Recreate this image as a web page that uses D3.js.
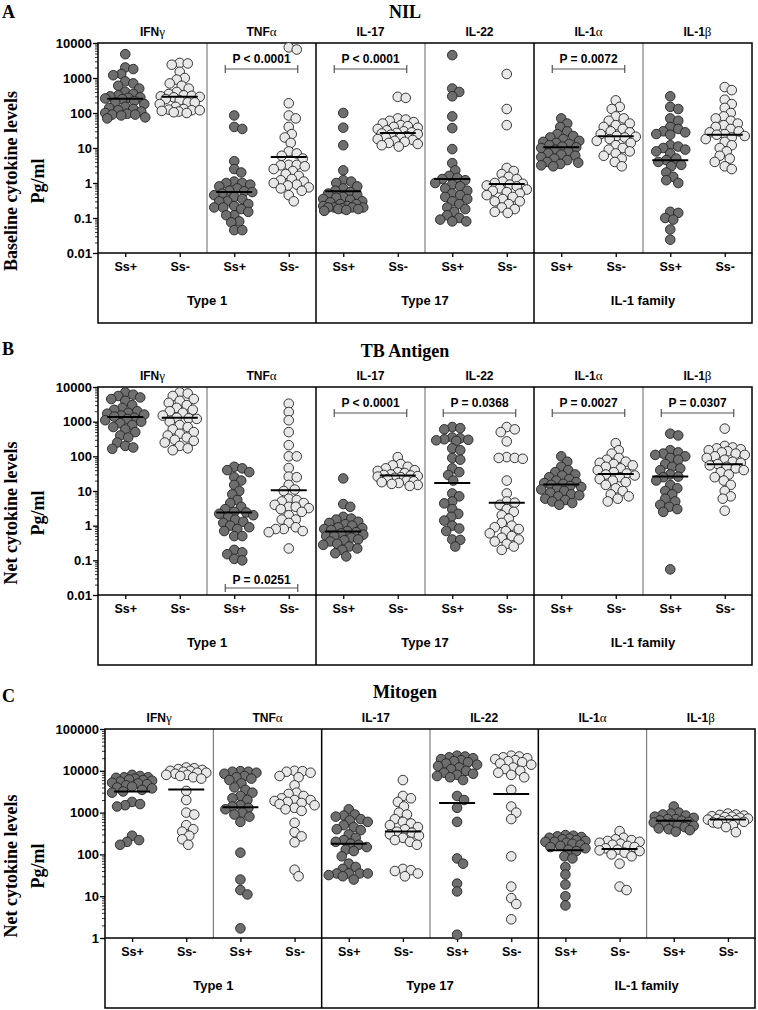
<!DOCTYPE html>
<html>
<head>
<meta charset="utf-8">
<script src="https://cdn.jsdelivr.net/npm/d3@7"></script>
<style>
  body { margin: 0; background: #fff; }
  svg { display: block; }
</style>
</head>
<body>
<script>
// ---- data ----
var cytokines = ["IFNγ", "TNFα", "IL-17", "IL-22", "IL-1α", "IL-1β"];
var groups = ["Ss+", "Ss-"];
var families = ["Type 1", "Type 17", "IL-1 family"];
var panelLetters = ["A", "B", "C"];
var panelTitles = ["NIL", "TB Antigen", "Mitogen"];
var yTitles = ["Baseline cytokine levels", "Net cytokine levels", "Net cytokine levels"];
var yTicksAB = [0.01, 0.1, 1, 10, 100, 1000, 10000];
var yTicksC = [1, 10, 100, 1000, 10000, 100000];

// A: NIL (pg/ml), one list per cytokine
var nilSsPos = [
  [4800, 2000, 1800, 1300, 1200, 800, 700, 600, 500, 400, 350, 320, 300, 280, 270, 260, 250, 220, 200, 180, 150, 140, 130, 120, 110, 100, 95, 90, 90, 85, 75, 70],
  [85, 40, 35, 4.2, 2.5, 2.0, 1.1, 1.0, 1.0, 0.9, 0.8, 0.7, 0.6, 0.58, 0.55, 0.5, 0.45, 0.4, 0.35, 0.3, 0.3, 0.25, 0.22, 0.2, 0.2, 0.18, 0.15, 0.12, 0.12, 0.08, 0.075, 0.045, 0.045],
  [100, 38, 12, 2.3, 1.2, 1.1, 1.0, 0.8, 0.7, 0.6, 0.55, 0.5, 0.45, 0.4, 0.38, 0.35, 0.33, 0.3, 0.28, 0.25, 0.22, 0.2, 0.2, 0.2, 0.19, 0.18, 0.18, 0.17, 0.16, 0.2, 0.22, 0.25],
  [4500, 500, 400, 300, 80, 37, 9.3, 3.7, 2.3, 1.6, 1.4, 1.3, 1.2, 1.0, 0.9, 0.8, 0.7, 0.6, 0.5, 0.45, 0.4, 0.35, 0.3, 0.25, 0.2, 0.18, 0.15, 0.12, 0.1, 0.09, 0.08, 0.08],
  [70, 50, 40, 30, 25, 22, 20, 18, 16, 15, 14, 13, 12, 11, 10.5, 10, 9, 8, 7, 6.5, 6, 5.5, 5, 4.5, 4, 3.8, 3.5, 3.2, 3.0],
  [300, 150, 130, 70, 60, 40, 35, 30, 28, 25, 24, 12, 11, 10, 9, 8, 7, 5, 4.5, 4, 3.3, 3.0, 2.0, 1.5, 1.2, 1.0, 0.15, 0.14, 0.1, 0.09, 0.047, 0.024]
];
var nilSsNeg = [
  [2700, 2600, 2400, 1500, 1000, 900, 700, 600, 500, 400, 350, 320, 310, 300, 290, 280, 250, 230, 200, 200, 180, 150, 130, 125, 120, 120, 115, 110, 105, 100],
  [7500, 6500, 190, 85, 70, 40, 25, 20, 14, 8, 7, 6, 5, 3.3, 3.3, 3.2, 3, 2.5, 2.2, 1.8, 1.6, 1.3, 1.2, 1.1, 1.0, 0.9, 0.85, 0.75, 0.7, 0.6, 0.45, 0.3],
  [290, 270, 70, 65, 60, 55, 50, 45, 42, 40, 38, 35, 32, 30, 28, 27, 26, 25, 24, 22, 20, 20, 18, 17, 16, 15, 14, 13, 12, 11],
  [1300, 130, 45, 2.7, 2.2, 1.8, 1.5, 1.3, 1.1, 1.0, 0.95, 0.9, 0.85, 0.8, 0.7, 0.65, 0.6, 0.55, 0.5, 0.45, 0.4, 0.35, 0.3, 0.3, 0.25, 0.2, 0.18, 0.15, 0.14],
  [230, 150, 130, 80, 70, 60, 50, 45, 40, 35, 30, 28, 25, 22, 21, 20, 18, 16, 14, 12, 10, 9, 8, 7, 6, 5, 4, 3],
  [550, 450, 240, 180, 140, 100, 80, 70, 60, 50, 45, 40, 35, 30, 28, 25, 24, 22, 20, 18, 15, 12, 10, 8, 6, 5, 4, 3, 2.5]
];
var nilMedPos = [257, 0.55, 0.58, 1.3, 10.5, 4.5];
var nilMedNeg = [290, 5.5, 27, 0.93, 21.5, 24];
var nilP = [
  { cyt: "TNFα", text: "P < 0.0001", at: "top" },
  { cyt: "IL-17", text: "P < 0.0001", at: "top" },
  { cyt: "IL-1α", text: "P = 0.0072", at: "top" }
];

// B: TB antigen (net, pg/ml)
var tbSsPos = [
  [7000, 6000, 5500, 5000, 4500, 4000, 3000, 2500, 2200, 2000, 1800, 1700, 1600, 1500, 1400, 1300, 1200, 1100, 1000, 900, 800, 700, 600, 500, 400, 350, 250, 200, 180, 165],
  [50, 45, 40, 35, 25, 20, 15, 10, 8, 5.5, 4.5, 3.5, 3, 2.5, 2.4, 2.2, 2, 1.8, 1.5, 1.3, 1.2, 1.0, 0.9, 0.8, 0.7, 0.5, 0.5, 0.2, 0.17, 0.15, 0.11, 0.1],
  [23, 4.2, 3.5, 1.8, 1.6, 1.5, 1.3, 1.2, 1.1, 1.0, 0.9, 0.85, 0.8, 0.75, 0.7, 0.65, 0.6, 0.55, 0.5, 0.5, 0.45, 0.4, 0.38, 0.35, 0.3, 0.28, 0.25, 0.22, 0.2, 0.16, 0.13],
  [700, 650, 600, 350, 330, 310, 300, 290, 280, 170, 150, 90, 80, 45, 35, 29, 20, 8.5, 7, 5, 4.4, 3, 2.2, 1.8, 1.4, 1.0, 0.83, 0.7, 0.4, 0.39, 0.25],
  [100, 70, 50, 40, 35, 30, 28, 25, 22, 20, 18, 17, 16, 15, 14, 13, 12, 11, 10, 9, 8, 7.5, 7, 6, 5.5, 5, 4.5, 4],
  [450, 400, 150, 130, 120, 110, 100, 90, 80, 60, 50, 45, 40, 30, 26, 25, 20, 15, 12, 10, 8, 6, 5, 4, 3.5, 3, 2.5, 0.055]
];
var tbSsNeg = [
  [7000, 6500, 5500, 4500, 4000, 3500, 3000, 2500, 2200, 2000, 1800, 1500, 1300, 1250, 1200, 1000, 800, 700, 600, 500, 450, 400, 350, 300, 280, 250, 200, 170, 150],
  [3300, 1900, 1100, 500, 210, 100, 100, 46, 26, 25, 15, 11, 10, 6, 5.5, 5, 4.5, 4, 3.5, 3.5, 3.2, 3, 2.5, 2, 1.5, 1.5, 1.2, 0.9, 0.8, 0.8, 0.7, 0.65, 0.22],
  [95, 60, 55, 50, 45, 40, 38, 35, 33, 30, 29, 28, 27, 26, 25, 24, 22, 20, 19, 18, 17, 16, 15, 14],
  [700, 600, 500, 270, 95, 90, 90, 85, 20, 8.5, 5, 4.6, 4, 3, 2.5, 2, 1.6, 1.2, 1.0, 0.9, 0.8, 0.7, 0.6, 0.5, 0.45, 0.4, 0.35, 0.3, 0.25, 0.2],
  [240, 150, 120, 90, 80, 70, 65, 60, 55, 50, 45, 40, 35, 32, 30, 28, 25, 22, 20, 18, 15, 12, 10, 8, 7, 6, 5],
  [630, 200, 180, 170, 160, 150, 140, 130, 120, 110, 100, 90, 80, 70, 65, 60, 55, 50, 45, 40, 35, 30, 25, 20, 15, 10, 7, 6, 2.7]
];
var tbMedPos = [1370, 2.4, 0.68, 17, 15.5, 26];
var tbMedNeg = [1290, 10.5, 28, 4.6, 31, 59];
var tbP = [
  { cyt: "TNFα", text: "P = 0.0251", at: "bottom" },
  { cyt: "IL-17", text: "P < 0.0001", at: "top" },
  { cyt: "IL-22", text: "P = 0.0368", at: "top" },
  { cyt: "IL-1α", text: "P = 0.0027", at: "top" },
  { cyt: "IL-1β", text: "P = 0.0307", at: "top" }
];

// C: Mitogen (net, pg/ml)
var mitoSsPos = [
  [8000, 7500, 7000, 7000, 6800, 6500, 6200, 6000, 5800, 5500, 5200, 5000, 4800, 4500, 4200, 4000, 3800, 3500, 3200, 3000, 1800, 1600, 1500, 1400, 280, 220, 200, 170],
  [9800, 9500, 9500, 9000, 8500, 7500, 7000, 6500, 6000, 5000, 4000, 3500, 3000, 2500, 2200, 2000, 1500, 1400, 1300, 1200, 1000, 900, 800, 600, 110, 25, 14, 11, 1.7],
  [1200, 900, 850, 800, 700, 650, 600, 500, 450, 400, 380, 300, 250, 220, 200, 180, 170, 150, 130, 120, 90, 60, 50, 45, 35, 35, 35, 35, 32, 30, 25],
  [23000, 22000, 21000, 20000, 19000, 18000, 17000, 16000, 15000, 14000, 13000, 12000, 11000, 10000, 9000, 8500, 8000, 7500, 7000, 6000, 2500, 2000, 1300, 600, 80, 60, 20, 13, 1.2],
  [290, 280, 270, 260, 250, 240, 230, 220, 210, 200, 200, 190, 180, 170, 160, 150, 140, 130, 120, 90, 80, 50, 33, 19, 10, 6],
  [1400, 1000, 950, 900, 850, 800, 750, 700, 700, 650, 640, 600, 580, 550, 520, 500, 480, 450, 420, 400, 380, 350]
];
var mitoSsNeg = [
  [12000, 11500, 11000, 10500, 10000, 10000, 9500, 9000, 9000, 8500, 8000, 8000, 7500, 7000, 6500, 3300, 2000, 1000, 900, 500, 400, 350, 280, 230, 170],
  [10000, 9800, 9500, 9000, 7500, 7000, 4500, 3000, 2800, 2500, 2200, 2000, 2000, 1900, 1800, 1700, 1600, 1500, 1300, 1200, 1100, 570, 340, 270, 195, 43, 30],
  [6000, 2500, 2200, 1800, 1400, 1000, 900, 700, 600, 550, 500, 450, 400, 350, 330, 300, 280, 250, 220, 200, 170, 45, 42, 40, 35, 30],
  [23000, 22000, 21000, 20000, 19000, 18000, 17000, 16000, 15000, 14000, 12000, 11000, 10000, 9000, 8000, 7000, 3500, 1400, 1000, 700, 90, 17, 9, 6.5, 2.8],
  [360, 250, 230, 220, 210, 200, 190, 180, 170, 160, 150, 140, 130, 125, 120, 110, 100, 90, 60, 17, 14],
  [950, 900, 880, 850, 820, 800, 780, 750, 720, 700, 680, 660, 650, 620, 600, 580, 550, 500, 450, 340]
];
var mitoMedPos = [3200, 1340, 180, 1700, 126, 640];
var mitoMedNeg = [3550, null, 355, 2800, 135, 680];
var mitoP = [];

// ---- layout ----
var W = 758, H = 1010;
var sans = "'Liberation Sans', Arial, Helvetica, sans-serif";
var serif = "'Liberation Serif', 'Times New Roman', serif";
var darkFill = "#6e6e6e", lightFill = "#e8e8e8";

var panels = [
  { pos: nilSsPos, neg: nilSsNeg, medPos: nilMedPos, medNeg: nilMedNeg, pv: nilP, domain: [0.01, 10000], ticks: yTicksAB,
    left: 98, right: 752, top: 43, bottom: 253, box: 323, letterY: 18, titleY: 18, ytY: 181 },
  { pos: tbSsPos, neg: tbSsNeg, medPos: tbMedPos, medNeg: tbMedNeg, pv: tbP, domain: [0.01, 10000], ticks: yTicksAB,
    left: 98, right: 752, top: 387, bottom: 595, box: 665, letterY: 355, titleY: 357, ytY: 513 },
  { pos: mitoSsPos, neg: mitoSsNeg, medPos: mitoMedPos, medNeg: mitoMedNeg, pv: mitoP, domain: [1, 100000], ticks: yTicksC,
    left: 105, right: 755, top: 729, bottom: 938, box: 1008, letterY: 702, titleY: 698, ytY: 866 }
];

var svg = d3.select("body").append("svg")
    .attr("width", W)
    .attr("height", H)
    .style("font-family", sans);

// label with greek suffix drawn in a serif face like the original
function greekLabel(sel, name) {
  var last = name.slice(-1);
  if ("αβγ".indexOf(last) >= 0) {
    sel.append("tspan").text(name.slice(0, -1));
    sel.append("tspan").text(last).style("font-family", serif).style("font-weight", "normal").style("font-size", "13px");
  } else {
    sel.text(name);
  }
}

// simple beeswarm: spread points sideways so they don't stack completely
function swarm(vals, y, cx, d, maxOff) {
  var pts = vals.map(function(v) { return { v: v, y: y(v) }; })
      .sort(function(a, b) { return a.y - b.y; });
  var placed = [];
  pts.forEach(function(p) {
    var best = 0, bestScore = -Infinity;
    for (var k = 0; k <= 2 * maxOff; k++) {
      var off = (k % 2 ? 1 : -1) * Math.ceil(k / 2);
      var md = Infinity;
      placed.forEach(function(q) {
        var dy = q.y - p.y;
        if (Math.abs(dy) >= d) return;
        var dist = Math.hypot(q.x - (cx + off), dy);
        if (dist < md) md = dist;
      });
      if (md >= d) { best = off; break; }
      if (md > bestScore) { bestScore = md; best = off; }
    }
    p.x = cx + best;
    placed.push(p);
  });
  return pts;
}

var keys = [];
cytokines.forEach(function(c) { groups.forEach(function(g) { keys.push(c + "|" + g); }); });

panels.forEach(function(P, pi) {
  var g = svg.append("g");

  var x = d3.scalePoint().domain(keys).range([P.left, P.right]).padding(0.5);
  var y = d3.scaleLog().domain(P.domain).range([P.bottom, P.top]);

  // panel letter, title, y title
  g.append("text").attr("x", 2).attr("y", P.letterY)
      .style("font-family", serif).style("font-weight", "bold").style("font-size", "18px")
      .text(panelLetters[pi]);
  g.append("text").attr("x", 405).attr("y", P.titleY).attr("text-anchor", "middle")
      .style("font-family", serif).style("font-weight", "bold").style("font-size", "18px")
      .text(panelTitles[pi]);
  var yt = g.append("text").attr("transform", "translate(17," + P.ytY + ") rotate(-90)")
      .attr("text-anchor", "middle")
      .style("font-family", serif).style("font-weight", "bold").style("font-size", "18px");
  yt.append("tspan").attr("x", 0).attr("y", 0).text(yTitles[pi]);
  yt.append("tspan").attr("x", 0).attr("y", 27).text("Pg/ml");

  // cytokine headings
  cytokines.forEach(function(c) {
    var cx = (x(c + "|Ss+") + x(c + "|Ss-")) / 2;
    var t = g.append("text").attr("x", cx).attr("y", P.top - 7).attr("text-anchor", "middle")
        .style("font-weight", "bold").style("font-size", "12px");
    greekLabel(t, c);
  });

  // dividers
  var divX = [];
  for (var i = 0; i < cytokines.length - 1; i++) {
    divX.push((x(cytokines[i] + "|Ss-") + x(cytokines[i + 1] + "|Ss+")) / 2);
  }
  divX.forEach(function(dx, i) {
    var major = (i === 1 || i === 3);
    g.append("line")
        .attr("x1", dx).attr("x2", dx)
        .attr("y1", P.top).attr("y2", major ? P.box : P.bottom)
        .attr("stroke", major ? "#000" : "#666")
        .attr("stroke-width", major ? 1.5 : 1);
  });

  // plot frame + lower box
  g.append("rect").attr("x", P.left).attr("y", P.top)
      .attr("width", P.right - P.left).attr("height", P.bottom - P.top)
      .attr("fill", "none").attr("stroke", "#000").attr("stroke-width", 1.5);
  g.append("path")
      .attr("d", "M" + P.left + "," + P.bottom + "V" + P.box + "H" + P.right + "V" + P.bottom)
      .attr("fill", "none").attr("stroke", "#000").attr("stroke-width", 1.5);

  // family labels
  var famEdges = [P.left, divX[1], divX[3], P.right];
  families.forEach(function(f, i) {
    g.append("text").attr("x", (famEdges[i] + famEdges[i + 1]) / 2).attr("y", P.box - 18)
        .attr("text-anchor", "middle")
        .style("font-weight", "bold").style("font-size", "13px")
        .text(f);
  });

  // y axis with log minor ticks
  var yAxis = g.append("g").attr("transform", "translate(" + P.left + ",0)")
      .call(d3.axisLeft(y).tickValues(P.ticks).tickSize(5).tickPadding(1).tickFormat(d3.format("~g")));
  yAxis.select(".domain").remove();
  yAxis.selectAll("text").style("font-weight", "bold").style("font-size", "13px").attr("fill", "#000");
  yAxis.selectAll("line").attr("stroke", "#000").attr("stroke-width", 1.3);
  var minor = [];
  P.ticks.slice(0, -1).forEach(function(t) { for (var m = 2; m <= 9; m++) minor.push(t * m); });
  g.append("g").attr("transform", "translate(" + P.left + ",0)")
      .call(d3.axisLeft(y).tickValues(minor).tickSize(3).tickFormat(""))
      .call(function(s) { s.select(".domain").remove(); s.selectAll("line").attr("stroke", "#000").attr("stroke-width", 0.8); });

  // x axis ticks and group labels
  var xAxis = g.append("g").attr("transform", "translate(0," + P.bottom + ")")
      .call(d3.axisBottom(x).tickSize(4).tickPadding(5).tickFormat(function(k) { return k.split("|")[1]; }));
  xAxis.select(".domain").remove();
  xAxis.selectAll("text").style("font-weight", "bold").style("font-size", "12.5px").attr("fill", "#000").attr("y", 9);
  xAxis.selectAll("line").attr("stroke", "#000").attr("stroke-width", 1.3);

  // points
  var sets = [{ data: P.pos, med: P.medPos, grp: "Ss+", fill: darkFill },
              { data: P.neg, med: P.medNeg, grp: "Ss-", fill: lightFill }];
  sets.forEach(function(s) {
    cytokines.forEach(function(c, ci) {
      var cx = x(c + "|" + s.grp);
      var pts = swarm(s.data[ci], y, cx, 7.5, 20);
      g.append("g").selectAll("circle").data(pts).join("circle")
          .attr("cx", function(d) { return d.x; })
          .attr("cy", function(d) { return d.y; })
          .attr("r", 4.8)
          .attr("fill", s.fill)
          .attr("stroke", "#222")
          .attr("stroke-width", 0.9);
    });
  });
  sets.forEach(function(s) {
    cytokines.forEach(function(c, ci) {
      if (s.med[ci] == null) return;
      var cx = x(c + "|" + s.grp);
      g.append("line")
          .attr("x1", cx - 18).attr("x2", cx + 18)
          .attr("y1", y(s.med[ci])).attr("y2", y(s.med[ci]))
          .attr("stroke", "#000").attr("stroke-width", 2);
    });
  });

  // p-value brackets
  P.pv.forEach(function(p) {
    var x1 = x(p.cyt + "|Ss+") - 9, x2 = x(p.cyt + "|Ss-") + 9;
    var by = p.at === "top" ? P.top + 26 : P.bottom - 7;
    var ty = p.at === "top" ? P.top + 20 : P.bottom - 11;
    g.append("path")
        .attr("d", "M" + x1 + "," + (by - 4) + "V" + (by + 4) + "M" + x1 + "," + by + "H" + x2 +
                   "M" + x2 + "," + (by - 4) + "V" + (by + 4))
        .attr("fill", "none").attr("stroke", "#555").attr("stroke-width", 1.2);
    g.append("text").attr("x", (x1 + x2) / 2).attr("y", ty).attr("text-anchor", "middle")
        .style("font-weight", "bold").style("font-size", "12px")
        .text(p.text);
  });
});
</script>
</body>
</html>
